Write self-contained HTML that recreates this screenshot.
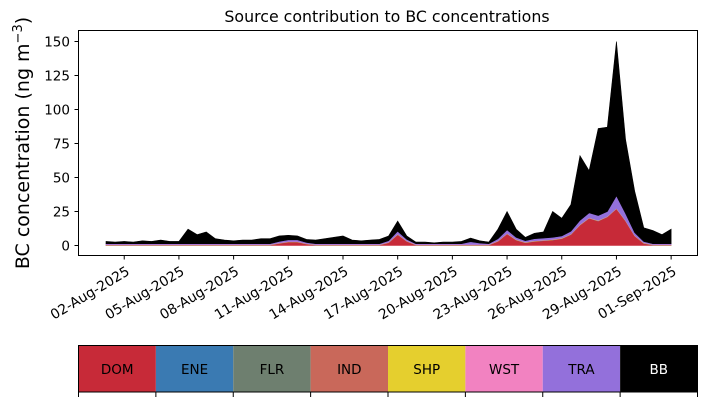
<!DOCTYPE html>
<html><head><meta charset="utf-8"><style>
body{margin:0;background:#fff;}
svg{display:block;font-family:"DejaVu Sans","Liberation Sans",sans-serif;}
</style></head><body>
<svg id="chart" width="707" height="402">
<text x="387" y="22" font-size="15.8" text-anchor="middle">Source contribution to BC concentrations</text>
<text transform="translate(29,143) rotate(-90)" font-size="19" text-anchor="middle">BC concentration (ng m<tspan dy="-7" font-size="13">−3</tspan><tspan dy="7">)</tspan></text>
<g id="areas"></g>
<rect x="78.5" y="30.5" width="619" height="225" fill="none" stroke="#000" stroke-width="1"/>
<g id="yaxis"></g>
<g id="xaxis"></g>
<g id="legend"></g>
</svg>
<script>
const names = ["DOM","ENE","FLR","IND","SHP","WST","TRA","BB"];
const colors = ["#c72a38","#3a7ab2","#6e7f6f","#c9685a","#e5cf2e","#f282c1","#9370db","#000000"];
const yTicks = [0,25,50,75,100,125,150];
const xTickDays = [2,5,8,11,14,17,20,23,26,29,32];
const xTickLabels = ["02-Aug-2025","05-Aug-2025","08-Aug-2025","11-Aug-2025","14-Aug-2025","17-Aug-2025","20-Aug-2025","23-Aug-2025","26-Aug-2025","29-Aug-2025","01-Sep-2025"];
const startDay = 1, stepDays = 0.5;
const DOM = [0.3,0.3,0.3,0.3,0.3,0.3,0.3,0.3,0.3,0.3,0.3,0.3,0.3,0.3,0.3,0.3,0.3,0.3,0.3,
 1.5,2.5,2.5,1,0.3, 0.3,0.3,0.3,0.3,0.3,0.3,0.3, 2,8,3,0.3, 0.3,0.3,0.3,0.3,0.3,0.3,0.3,0.3,
 3,8.5,4,2,3,3.5,4,5,8,15,20,18,21,27,18,7,1.5,0.3,0.3,0.3];
const ENE = new Array(63).fill(0.05);
const FLR = new Array(63).fill(0.03);
const IND = new Array(63).fill(0.12);
const SHP = new Array(63).fill(0.12);
const WST = new Array(63).fill(0.18);
const TRA = [0.5,0.5,0.5,0.5,0.5,0.5,0.5,0.5,0.5,0.5,0.5,0.5,0.5,0.5,0.5,0.5,0.5,0.5,0.5,
 1,1.2,1.2,0.7,0.5, 0.5,0.5,0.5,0.5,0.5,0.5,0.5, 1,2,1,0.5, 0.5,0.5,0.5,0.5,0.5,2,1,0.5,
 1.5,2.5,1.5,1,1.5,1.5,1.5,1.5,2,3,3.5,3.5,3.5,9,5,2,1,0.5,0.5,0.5];
const BB = [1.7,1.2,1.7,1.2,2.2,1.7,2.7,1.7,1.7,10.7,6.7,8.7,3.7,2.7,2.2,2.7,2.7,3.7,3.7,
 4,3.3,2.8,2.3,2.7,3.7,4.7,5.7,2.7,2.2,2.7,3.2,3.5,7.5,2.5,1.2,1.2,0.7,1.2,1.2,1.7,2.7,1.7,1.2,
 7,13.5,6,2.5,4,4.5,19,13,19.5,47.5,31,64,62,113.5,54.5,30.5,10,9.7,6.7,10.7];
const series = [DOM,ENE,FLR,IND,SHP,WST,TRA,BB];

const NS="http://www.w3.org/2000/svg";
const x = d => 106 + (d-1)*18.23;
const y = v => 245.5 - v*1.36;
function mk(tag, attrs){const e=document.createElementNS(NS,tag);for(const k in attrs)e.setAttribute(k,attrs[k]);return e;}

const areas=document.getElementById('areas');
const n=DOM.length;
let base=new Array(n).fill(0);
series.forEach((s,si)=>{
  const top=base.map((b,i)=>b+s[i]);
  let d="";
  for(let i=0;i<n;i++) d+=(i?"L":"M")+x(startDay+i*stepDays).toFixed(2)+","+y(top[i]).toFixed(2);
  for(let i=n-1;i>=0;i--) d+="L"+x(startDay+i*stepDays).toFixed(2)+","+y(base[i]).toFixed(2);
  const p=mk('path',{d:d+"Z",fill:colors[si],stroke:colors[si],"stroke-width":"0.6"});
  
  
  areas.appendChild(p);
  base=top;
});

const ya=document.getElementById('yaxis');
yTicks.forEach(v=>{
  const t=mk('line',{x1:74.5,x2:78.5,y1:y(v),y2:y(v),stroke:"#000"});
  
  
  ya.appendChild(t);
  const l=mk('text',{x:70,y:y(v)+5,"font-size":"13.5","text-anchor":"end"});
  l.textContent=v;
  
  
  ya.appendChild(l);
});

const xa=document.getElementById('xaxis');
xTickDays.forEach((d,i)=>{
  const xx=x(d);
  const t=mk('line',{x1:xx,x2:xx,y1:255.5,y2:259.5,stroke:"#000"});
  
  
  xa.appendChild(t);
  const l=mk('text',{transform:`translate(${xx+1},${265}) rotate(-31)`,"font-size":"13.8","text-anchor":"end",dy:"0.75em"});
  l.textContent=xTickLabels[i];
  
  
  xa.appendChild(l);
});

const lg=document.getElementById('legend');
const lx0=78.5,lw=619,ly=345.5,lh=46.5,cw=lw/names.length;
names.forEach((nm,i)=>{
  const r=mk('rect',{x:lx0+i*cw,y:ly,width:cw,height:lh,fill:colors[i]});
  
  
  lg.appendChild(r);
  const t=mk('text',{x:lx0+i*cw+cw/2,y:ly+lh/2+5,"font-size":"13.5","text-anchor":"middle",fill:i===7?"#fff":"#000"});
  t.textContent=nm;
  
  
  lg.appendChild(t);
});
for(let i=0;i<=names.length;i++){
  const t=mk('line',{x1:lx0+i*cw,x2:lx0+i*cw,y1:ly+lh,y2:ly+lh+5,stroke:"#000"});
  
  
  lg.appendChild(t);
}
const fr=mk('rect',{x:lx0,y:ly,width:lw,height:lh,fill:"none",stroke:"#000"});


lg.appendChild(fr);
</script>
</body></html>
